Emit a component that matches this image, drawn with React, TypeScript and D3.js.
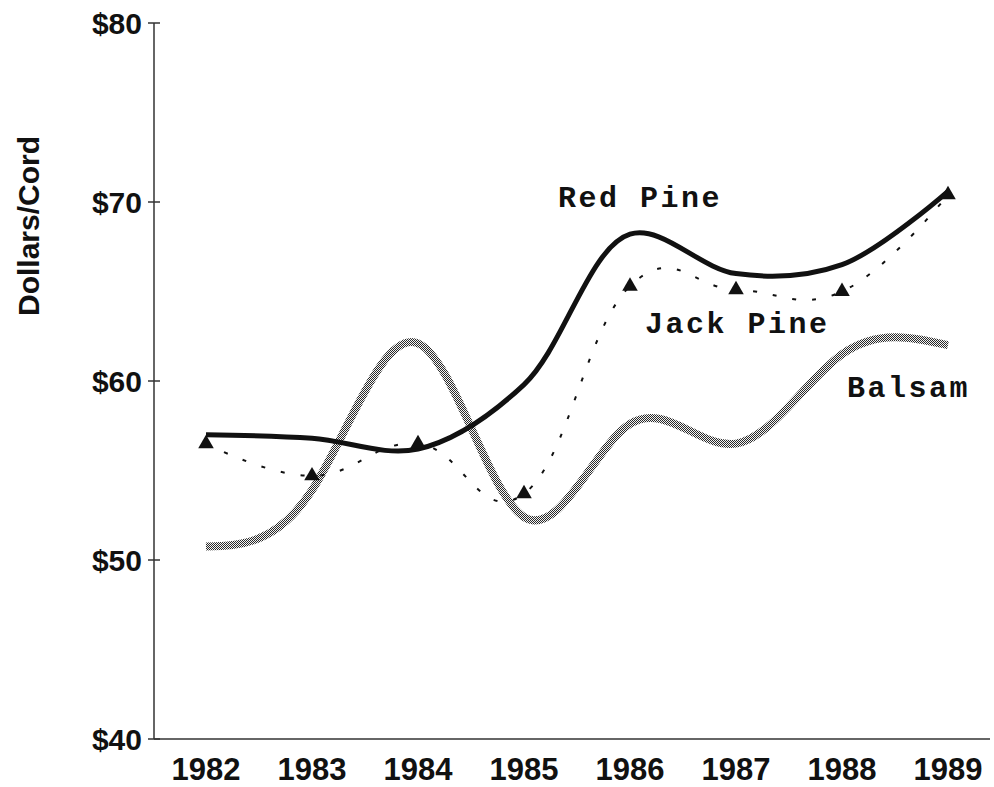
import React from "react";
import * as d3 from "d3";

const years = [1982, 1983, 1984, 1985, 1986, 1987, 1988, 1989];
const redPine = [57.0, 56.8, 56.2, 59.8, 68.2, 66.0, 66.5, 70.6];
const jackPine = [56.5, 54.7, 56.5, 53.7, 65.3, 65.1, 65.0, 70.4];
const balsam = [50.75, 53.9, 62.1, 52.4, 57.6, 56.5, 61.5, 62.0];
const yTicks = [40, 50, 60, 70, 80];
const yTickLabels = ["$40", "$50", "$60", "$70", "$80"];
const seriesLabels = ["Red Pine", "Jack Pine", "Balsam"];

const W = 994;
const H = 787;

export default function App() {
  const x = d3.scaleLinear().domain([1982, 1989]).range([206, 948]);
  const y = d3.scaleLinear().domain([40, 80]).range([739, 23]);

  const smooth = d3
    .line<number>()
    .x((_, i) => x(years[i]))
    .y((d) => y(d))
    .curve(d3.curveCardinal.tension(-0.25));

  const natural = d3
    .line<number>()
    .x((_, i) => x(years[i]))
    .y((d) => y(d))
    .curve(d3.curveNatural);

  const catmull = d3
    .line<number>()
    .x((_, i) => x(years[i]))
    .y((d) => y(d))
    .curve(d3.curveCatmullRom.alpha(0.5));

  const tri = d3.symbol().type(d3.symbolTriangle).size(105)();

  const labelFont = "'Liberation Mono', 'Courier New', monospace";
  const axisFont = "'Liberation Sans', Arial, Helvetica, sans-serif";

  return (
    <svg
      width={W}
      height={H}
      style={{ position: "absolute", left: 0, top: 0, background: "#fff" }}
    >
      <defs>
        <pattern id="stipple" width={2} height={2} patternUnits="userSpaceOnUse">
          <rect x={0} y={0} width={2} height={2} fill="#f4f4f4" />
          <rect x={0} y={0} width={1} height={1} fill="#2a2a2a" />
          <rect x={1} y={1} width={1} height={1} fill="#2a2a2a" />
        </pattern>
      </defs>
      <rect x={0} y={0} width={W} height={H} fill="#fff" />

      {/* axes */}
      <line x1={154} x2={154} y1={y(80)} y2={y(40)} stroke="#333" strokeWidth={1.5} />
      <line x1={154} x2={990} y1={y(40)} y2={y(40)} stroke="#333" strokeWidth={1.5} />
      {yTicks.map((t, i) => (
        <g key={t}>
          <line x1={148} x2={160} y1={y(t)} y2={y(t)} stroke="#333" strokeWidth={1.5} />
          <text
            x={142}
            y={y(t)}
            dy="0.36em"
            textAnchor="end"
            fontFamily={axisFont}
            fontWeight="bold"
            fontSize={30}
            fill="#111"
          >
            {yTickLabels[i]}
          </text>
        </g>
      ))}
      {years.map((yr) => (
        <text
          key={yr}
          x={x(yr)}
          y={780}
          textAnchor="middle"
          fontFamily={axisFont}
          fontWeight="bold"
          fontSize={31}
          fill="#111"
        >
          {yr}
        </text>
      ))}
      <text
        transform={`translate(39,226) rotate(-90)`}
        textAnchor="middle"
        fontFamily={axisFont}
        fontWeight="bold"
        fontSize={30}
        fill="#111"
      >
        Dollars/Cord
      </text>

      {/* series */}
      <path d={natural(balsam) || ""} fill="none" stroke="url(#stipple)" strokeWidth={8} />
      <path
        d={smooth(jackPine) || ""}
        fill="none"
        stroke="#111"
        strokeWidth={2}
        strokeDasharray="4 16"
      />
      <path d={catmull(redPine) || ""} fill="none" stroke="#111" strokeWidth={5} />
      {jackPine.map((v, i) => (
        <path key={i} d={tri || ""} transform={`translate(${x(years[i])},${y(v)})`} fill="#111" />
      ))}

      {/* labels */}
      <text x={558} y={207} fontFamily={labelFont} fontWeight="bold" fontSize={30} letterSpacing={2.5} fill="#111">
        {seriesLabels[0]}
      </text>
      <text x={645} y={333} fontFamily={labelFont} fontWeight="bold" fontSize={30} letterSpacing={2.5} fill="#111">
        {seriesLabels[1]}
      </text>
      <text x={847} y={397} fontFamily={labelFont} fontWeight="bold" fontSize={30} letterSpacing={2.5} fill="#111">
        {seriesLabels[2]}
      </text>
    </svg>
  );
}
